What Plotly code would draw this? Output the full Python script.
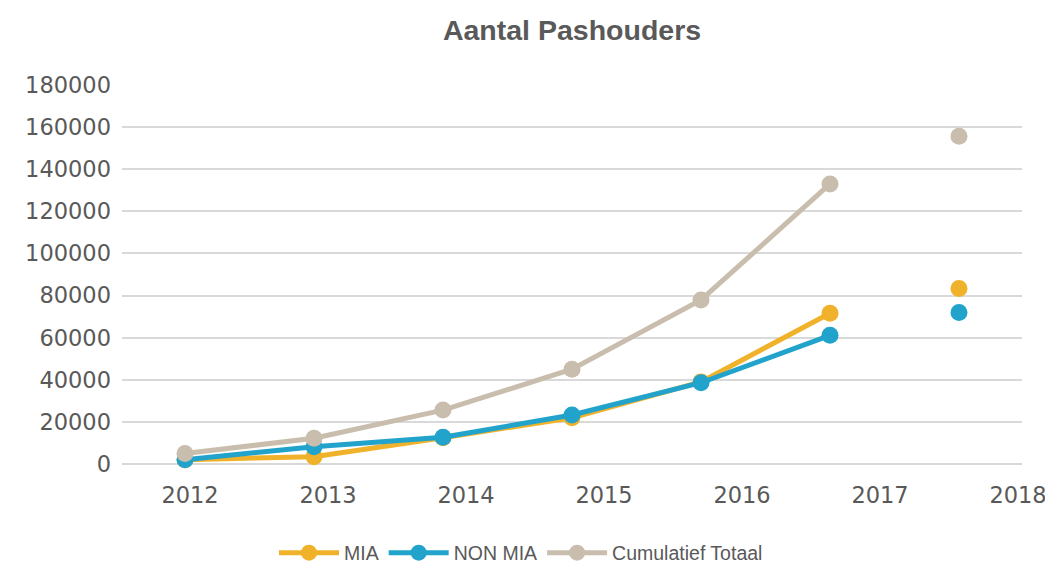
import plotly.graph_objects as go

years = [2012, 2013, 2014, 2015, 2016, 2017, 2018]
tick_labels = ["2012", "2013", "2014", "2015", "2016", "2017", "2018"]
mia = [2000, 3500, 12500, 22000, 39000, 71600, 83400]
non_mia = [2000, 8200, 12700, 23300, 38600, 61100, 71900]
cumulatief = [5000, 12200, 25600, 45000, 77900, 133000, 155700]

series = [
    ("MIA", mia, "#F0B22A"),
    ("NON MIA", non_mia, "#22A3CB"),
    ("Cumulatief Totaal", cumulatief, "#C9BEAD"),
]

fig = go.Figure()
for name, vals, col in series:
    fig.add_trace(go.Scatter(
        x=years[:6], y=vals[:6], name=name, mode="lines+markers",
        line=dict(color=col, width=5), marker=dict(color=col, size=17),
        legendgroup=name, cliponaxis=False,
    ))
    fig.add_trace(go.Scatter(
        x=years[6:], y=vals[6:], name=name, mode="markers",
        marker=dict(color=col, size=17), legendgroup=name,
        showlegend=False, cliponaxis=False,
    ))

# label positions (labels are offset from data points in original chart)
pt_px = 129.0
lab_px = 138.0
tickvals = [years[0] + (5 + lab_px * i) / pt_px for i in range(len(tick_labels))]

fig.update_layout(
    width=1045, height=558,
    margin=dict(l=114, r=31, t=77, b=102, autoexpand=False),
    paper_bgcolor="white", plot_bgcolor="white",
    font=dict(family="DejaVu Sans, sans-serif", color="#595959"),
    title=dict(text="Aantal Pashouders", xref="paper", x=0.5, xanchor="center",
               yref="container", y=1 - 22 / 558, yanchor="middle",
               font=dict(size=28.5, color="#595959", family="Liberation Sans, Arial, sans-serif",
                         weight="bold")),
    showlegend=True,
    legend=dict(orientation="h", xref="container", x=513 / 1045, xanchor="center",
                yref="container", y=1 - 545 / 558, yanchor="middle",
                font=dict(size=19.5, color="#595959", family="Liberation Sans, Arial, sans-serif"),
                itemwidth=60, traceorder="normal"),
    hovermode=False,
)
fig.update_xaxes(
    range=[years[0] - 63 / pt_px, years[0] + 837 / pt_px],
    tickvals=tickvals, ticktext=tick_labels,
    showgrid=False, zeroline=False, showline=False, ticks="",
    tickfont=dict(size=22.5, color="#595959"), ticklabelstandoff=15,
)
fig.update_yaxes(
    range=[0, 180000], dtick=20000, tickformat="d",
    showgrid=True, gridcolor="#D9D9D9", gridwidth=1.5,
    zeroline=True, zerolinecolor="#D9D9D9", zerolinewidth=2,
    showline=False, ticks="",
    tickfont=dict(size=22.5, color="#595959"), ticklabelstandoff=10,
)

fig.write_html("out.html")
